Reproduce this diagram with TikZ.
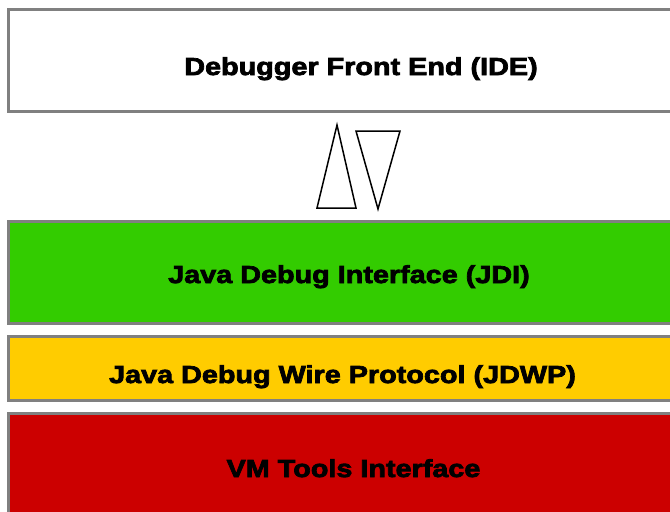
\documentclass[tikz,border=0pt]{standalone}
\usepackage{fontspec}
\newfontfamily\layerfont{Liberation Sans Bold}[FakeBold=3, FakeStretch=1.17]

\definecolor{jdigreen}{RGB}{51,204,0}
\definecolor{jdwpyellow}{RGB}{255,204,0}
\definecolor{jvmtired}{RGB}{204,0,0}
\definecolor{edgegray}{RGB}{128,128,128}

\tikzset{
  layer/.style={draw=edgegray, line width=0.9mm, minimum width=204.3mm, inner sep=0pt},
  caption/.style={inner sep=0pt, anchor=base,
    font=\layerfont\fontsize{21}{24}\selectfont},
  pipe/.style={draw=black, line width=0.45mm, fill=white, line join=miter}
}

\begin{document}
\begin{tikzpicture}[x=0.3mm, y=-0.3mm]
  % page frame, 670 x 511 units
  \useasboundingbox (0,0) rectangle (670,511);
  \clip (0,0) rectangle (670,511);

  % Layers, top to bottom
  \node[layer, fill=white, minimum height=30.6mm] (ide) at (349.5,60) {};
  \node[layer, fill=jdigreen, minimum height=30.6mm] (jdi) at (349.5,272) {};
  \node[layer, fill=jdwpyellow, minimum height=19.2mm] (jdwp) at (349.5,368) {};
  \node[layer, fill=jvmtired, minimum height=33mm] (jvmti) at (349.5,468) {};

  % Layer names, placed on their baselines
  \node[caption] (ideName) at (361,75) {Debugger Front End (IDE)};
  \node[caption] (jdiName) at (349,283) {Java Debug Interface (JDI)};
  \node[caption] (jdwpName) at (342.5,383) {Java Debug Wire Protocol (JDWP)};
  \node[caption] (jvmtiName) at (353.5,477) {VM Tools Interface};

  % Request / event channels between IDE and JDI
  \draw[pipe] (337,125) -- (356,208) -- (317,208) -- cycle;
  \draw[pipe] (356,131) -- (400,131) -- (378,209) -- cycle;
\end{tikzpicture}
\end{document}
